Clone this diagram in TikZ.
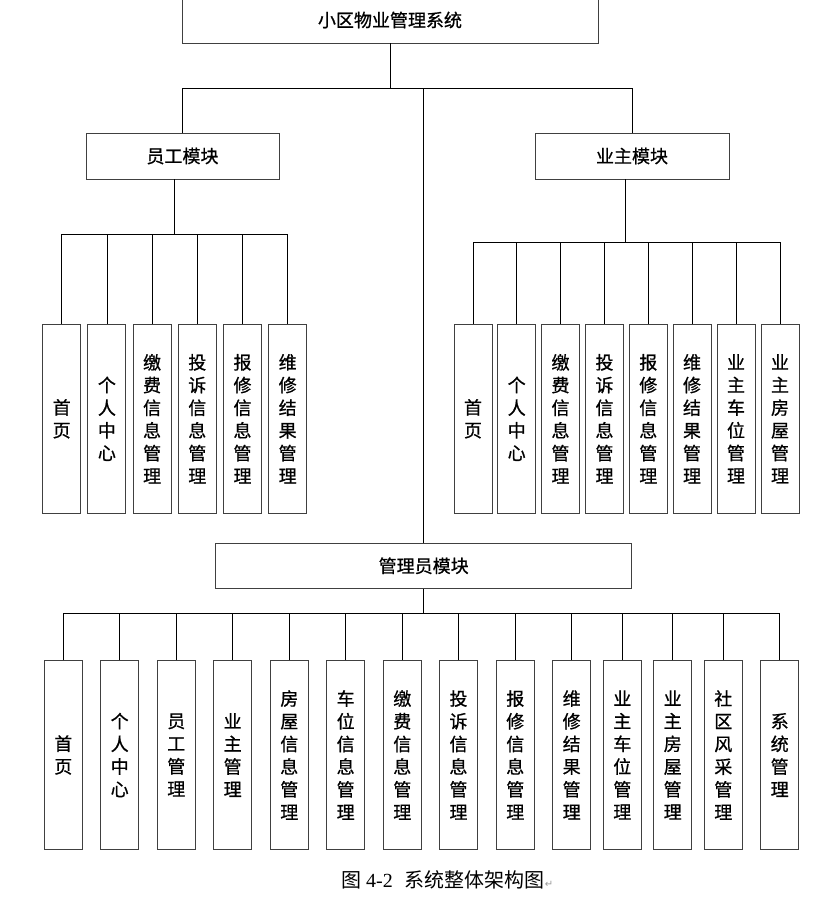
\documentclass[tikz,border=0pt]{standalone}
\usepackage{fontspec}
\newfontfamily\cjk[FakeBold=0.8]{Noto Sans CJK SC}
\newfontfamily\capcjk{Noto Sans CJK SC}
\newfontfamily\capfont{Liberation Serif}
\newfontfamily\symfont{DejaVu Sans}

\begin{document}
\begin{tikzpicture}[x=1pt, y=-1pt,
  module/.style={draw=black!75, line width=0.9pt, inner sep=0pt, font=\cjk\fontsize{18}{23}\selectfont},
  leaf/.style={draw=black!75, line width=0.9pt, minimum width=38pt, minimum height=189pt, inner sep=0pt, align=center, font=\cjk\fontsize{18}{22.7}\selectfont},
  link/.style={black, line width=0.8pt}]
\useasboundingbox (0,0) rectangle (835,898);

\node[module, minimum width=416pt, minimum height=46pt] (sys) at (390, 20) {小区物业管理系统};
\node[module, minimum width=193pt, minimum height=46pt] (staff) at (182.5, 156) {员工模块};
\node[module, minimum width=194pt, minimum height=46pt] (owner) at (632, 156) {业主模块};
\node[module, minimum width=416pt, minimum height=45pt] (admin) at (423.7, 565.8) {管理员模块};

%staff leaves
\node[leaf] (s1) at (61.7, 418.8) {首\\页};
\node[leaf] (s2) at (106.9, 418.8) {个\\人\\中\\心};
\node[leaf] (s3) at (152.1, 418.8) {缴\\费\\信\\息\\管\\理};
\node[leaf] (s4) at (197.3, 418.8) {投\\诉\\信\\息\\管\\理};
\node[leaf] (s5) at (242.5, 418.8) {报\\修\\信\\息\\管\\理};
\node[leaf] (s6) at (287.7, 418.8) {维\\修\\结\\果\\管\\理};

%owner leaves
\node[leaf] (o1) at (473, 418.8) {首\\页};
\node[leaf] (o2) at (516.7, 418.8) {个\\人\\中\\心};
\node[leaf] (o3) at (560.5, 418.8) {缴\\费\\信\\息\\管\\理};
\node[leaf] (o4) at (604.5, 418.8) {投\\诉\\信\\息\\管\\理};
\node[leaf] (o5) at (648.3, 418.8) {报\\修\\信\\息\\管\\理};
\node[leaf] (o6) at (692, 418.8) {维\\修\\结\\果\\管\\理};
\node[leaf] (o7) at (736, 418.8) {业\\主\\车\\位\\管\\理};
\node[leaf] (o8) at (780, 418.8) {业\\主\\房\\屋\\管\\理};

%admin leaves
\node[leaf] (a1) at (63.3, 755) {首\\页};
\node[leaf] (a2) at (119.7, 755) {个\\人\\中\\心};
\node[leaf] (a3) at (176.3, 755) {员\\工\\管\\理};
\node[leaf] (a4) at (232.7, 755) {业\\主\\管\\理};
\node[leaf] (a5) at (289.3, 755) {房\\屋\\信\\息\\管\\理};
\node[leaf] (a6) at (345.7, 755) {车\\位\\信\\息\\管\\理};
\node[leaf] (a7) at (402.3, 755) {缴\\费\\信\\息\\管\\理};
\node[leaf] (a8) at (458.5, 755) {投\\诉\\信\\息\\管\\理};
\node[leaf] (a9) at (515.3, 755) {报\\修\\信\\息\\管\\理};
\node[leaf] (a10) at (571.7, 755) {维\\修\\结\\果\\管\\理};
\node[leaf] (a11) at (622.3, 755) {业\\主\\车\\位\\管\\理};
\node[leaf] (a12) at (672.7, 755) {业\\主\\房\\屋\\管\\理};
\node[leaf] (a13) at (723.3, 755) {社\\区\\风\\采\\管\\理};
\node[leaf] (a14) at (779.7, 755) {系\\统\\管\\理};

\node[anchor=west, inner sep=0pt, font=\fontsize{20}{24}\selectfont] (cap) at (341, 880)
  {\capcjk 图\hspace{5pt}\capfont 4-2\hspace{12pt}\capcjk 系统整体架构图\textcolor{black!40}{\symfont\fontsize{10}{12}\selectfont ↵}};

%junctions
\coordinate (top) at (390, 88);
\coordinate (sbus) at (174, 234);
\coordinate (obus) at (625, 242);
\coordinate (abus) at (423.7, 613);

%connections
\draw[link] (sys.south) -- (top);
\draw[link] (staff.north) |- (top);
\draw[link] (top) -| (owner.north);
\draw[link] (admin.north) |- (top);
\draw[link] (staff.south -| sbus) -- (sbus);
\draw[link] (owner.south -| obus) -- (obus);
\draw[link] (admin.south) -- (abus);
\draw[link] (s1.north) |- (sbus);
\draw[link] (s2.north) |- (sbus);
\draw[link] (s3.north) |- (sbus);
\draw[link] (s4.north) |- (sbus);
\draw[link] (s5.north) |- (sbus);
\draw[link] (s6.north) |- (sbus);
\draw[link] (o1.north) |- (obus);
\draw[link] (o2.north) |- (obus);
\draw[link] (o3.north) |- (obus);
\draw[link] (o4.north) |- (obus);
\draw[link] (o5.north) |- (obus);
\draw[link] (o6.north) |- (obus);
\draw[link] (o7.north) |- (obus);
\draw[link] (o8.north) |- (obus);
\draw[link] (a1.north) |- (abus);
\draw[link] (a2.north) |- (abus);
\draw[link] (a3.north) |- (abus);
\draw[link] (a4.north) |- (abus);
\draw[link] (a5.north) |- (abus);
\draw[link] (a6.north) |- (abus);
\draw[link] (a7.north) |- (abus);
\draw[link] (a8.north) |- (abus);
\draw[link] (a9.north) |- (abus);
\draw[link] (a10.north) |- (abus);
\draw[link] (a11.north) |- (abus);
\draw[link] (a12.north) |- (abus);
\draw[link] (a13.north) |- (abus);
\draw[link] (a14.north) |- (abus);
\end{tikzpicture}
\end{document}
